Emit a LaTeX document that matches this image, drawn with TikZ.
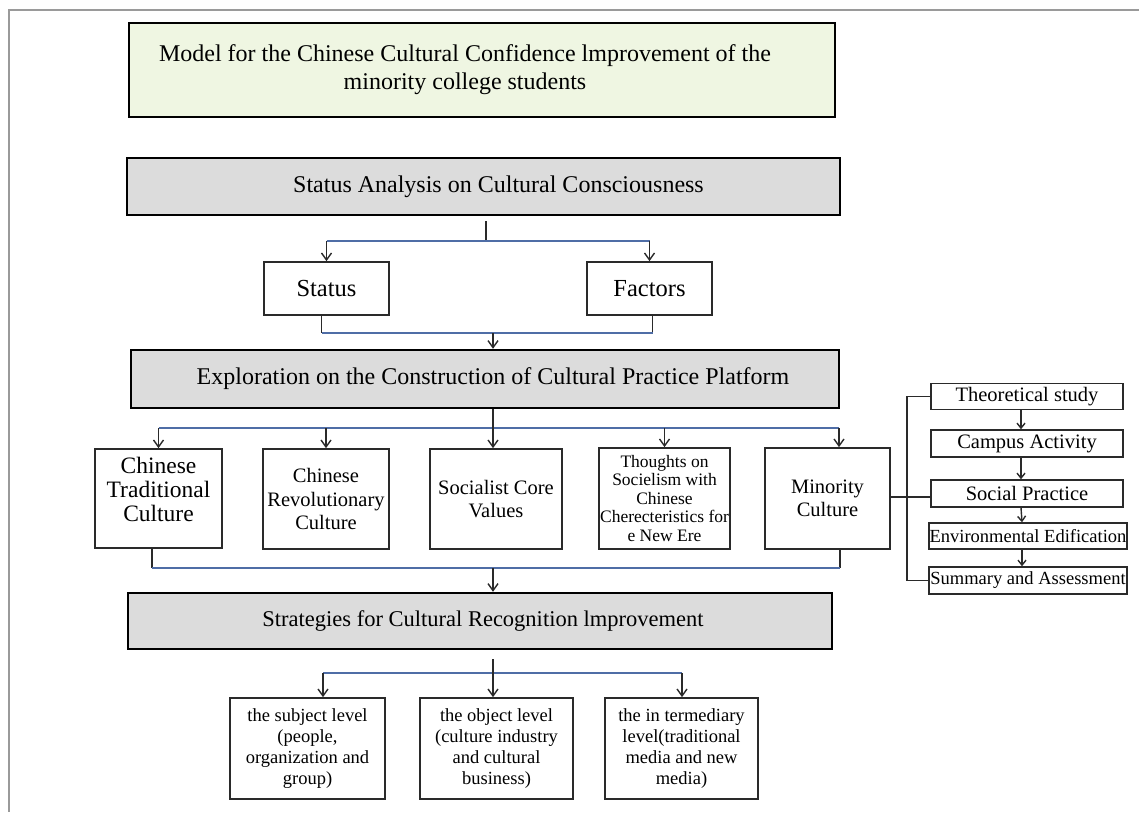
\documentclass[tikz,border=0pt]{standalone}
\usepackage{fontspec}
\setmainfont{Liberation Serif}
\usetikzlibrary{arrows.meta}

\definecolor{headgray}{HTML}{DCDCDC}
\definecolor{titlegreen}{HTML}{EFF6E2}
\definecolor{linkblue}{HTML}{4F6DA6}
\definecolor{framegray}{HTML}{9A9A9A}
\definecolor{boxline}{HTML}{2A2A2A}

\tikzset{
  headbox/.style={draw=black, line width=2.4pt, fill=headgray, inner sep=0pt, font=\fontsize{24}{28}\selectfont},
  subbox/.style={draw=boxline, line width=1.7pt, fill=white, inner sep=0pt, align=center},
  chainbox/.style={draw=boxline, line width=1.5pt, fill=white, inner sep=0pt},
  link/.style={draw=linkblue, line width=1.8pt},
  stem/.style={draw=boxline, line width=1.4pt},
  arr/.style={stem, -{Straight Barb[length=7pt,width=10pt]}},
  smallarr/.style={stem, -{Straight Barb[length=5pt,width=8pt]}}
}

\begin{document}
\begin{tikzpicture}[x=1pt, y=-1pt]
\useasboundingbox (0,0) rectangle (1139,812);
\draw[framegray, line width=2pt] (1139,10) -- (9,10) -- (9,812);

% heading boxes
\node[headbox, fill=titlegreen, minimum width=706pt, minimum height=94pt, align=center] (model) at (482,70)
  {Model for the Chinese Cultural Confidence lmprovement of the\hspace*{34pt}\\minority college students\hspace*{34pt}};
\node[headbox, minimum width=713pt, minimum height=57pt] (analysis) at (483.5,186.5) {\hspace*{30pt}Status Analysis on Cultural Consciousness};
\node[headbox, minimum width=708pt, minimum height=58pt] (explore) at (485,379) {\hspace*{16pt}Exploration on the Construction of Cultural Practice Platform};
\node[headbox, minimum width=704pt, minimum height=56pt, font=\fontsize{22.5}{26}\selectfont] (strategy) at (480,621) {\hspace*{6pt}Strategies for Cultural Recognition lmprovement};

% status and factors
\node[subbox, minimum width=125pt, minimum height=53pt, font=\fontsize{24.5}{28}\selectfont] (status) at (326.5,288.5) {Status};
\node[subbox, minimum width=125pt, minimum height=53pt, font=\fontsize{24.5}{28}\selectfont] (factors) at (649.5,288.5) {Factors};

% five cultures
\node[subbox, minimum width=127pt, minimum height=99pt, font=\fontsize{23.5}{24}\selectfont] (tradcult) at (158.5,498.5) {Chinese\\Traditional\\Culture\\[-5pt]};
\node[subbox, minimum width=126pt, minimum height=100pt, font=\fontsize{20.5}{23.5}\selectfont] (revcult) at (326,499) {Chinese\\Revolutionary\\Culture};
\node[subbox, minimum width=132pt, minimum height=100pt, font=\fontsize{20.5}{23.5}\selectfont] (corevals) at (496,499) {Socialist Core\\Values};
\node[subbox, minimum width=131pt, minimum height=101pt, font=\fontsize{17.5}{18.5}\selectfont] (thoughts) at (664.5,498.5) {Thoughts on\\Socielism with\\Chinese\\Cherecteristics for\\e New Ere};
\node[subbox, minimum width=125pt, minimum height=101pt, font=\fontsize{20.5}{23.5}\selectfont] (mincult) at (827.5,498.5) {Minority\\Culture};

% three levels
\node[subbox, minimum width=155pt, minimum height=101pt, font=\fontsize{18.5}{21}\selectfont] (subjlvl) at (307.5,748.5) {the subject level\\(people,\\organization and\\group)};
\node[subbox, minimum width=153pt, minimum height=101pt, font=\fontsize{18.5}{21}\selectfont] (objlvl) at (496.5,748.5) {the object level\\(culture industry\\and cultural\\business)};
\node[subbox, minimum width=153pt, minimum height=101pt, font=\fontsize{18.5}{21}\selectfont] (midlvl) at (681.5,748.5) {the in termediary\\level(traditional\\media and new\\media)};

% practice chain
\node[chainbox, minimum width=192pt, minimum height=26pt, font=\fontsize{20.5}{21}\selectfont] (theory) at (1027,396.5) {Theoretical study};
\node[chainbox, minimum width=192pt, minimum height=27pt, font=\fontsize{20.5}{21}\selectfont] (campus) at (1027,443.5) {Campus Activity};
\node[chainbox, minimum width=192pt, minimum height=27pt, font=\fontsize{20.5}{21}\selectfont] (social) at (1027,493.5) {Social Practice};
\node[chainbox, minimum width=198pt, minimum height=26pt, font=\fontsize{18.5}{19}\selectfont] (environ) at (1028,536) {Environmental Edification};
\node[chainbox, minimum width=198pt, minimum height=27pt, font=\fontsize{18.5}{19}\selectfont] (summary) at (1028,580.5) {Summary and Assessment};

% junctions
\coordinate (j1) at (486,241);
\coordinate (j2) at (493,333);
\coordinate (j3) at (493,428);
\coordinate (j3r) at (839,428);
\coordinate (j4l) at (152,568);
\coordinate (j4) at (493,568);
\coordinate (j4r) at (840,568);
\coordinate (j5) at (493,673);
\coordinate (j5l) at (323,673);
\coordinate (j5r) at (682,673);
\coordinate (k) at (907,497);

% analysis -> status, factors
\draw[stem] ([yshift=-5pt]analysis.south -| j1) -- (j1);
\draw[link] (status.north |- j1) -- (factors.north |- j1);
\draw[arr] (status.north |- j1) -- (status.north);
\draw[arr] (factors.north |- j1) -- (factors.north);

% status, factors -> exploration
\draw[stem] ([xshift=-5pt]status.south) -- ([xshift=-5pt]status.south |- j2);
\draw[stem] ([xshift=3pt]factors.south) -- ([xshift=3pt]factors.south |- j2);
\draw[link] ([xshift=-5pt]status.south |- j2) -- ([xshift=3pt]factors.south |- j2);
\draw[arr] (j2) -- (j2 |- explore.north);

% exploration -> cultures
\draw[link] (tradcult.north |- j3) -- (j3r);
\draw[arr] (explore.south -| j3) -- (j3 |- corevals.north);
\foreach \n in {tradcult, revcult, thoughts}
  \draw[arr] (\n.north |- j3) -- (\n.north);
\draw[arr] (j3r) -- (j3r |- mincult.north);

% cultures -> strategies
\draw[stem] (j4l |- tradcult.south) -- (j4l);
\draw[stem] (j4r |- mincult.south) -- (j4r);
\draw[link] (j4l) -- (j4r);
\draw[arr] (j4) -- (j4 |- strategy.north);

% strategies -> levels
\draw[link] (j5l) -- (j5r);
\draw[arr] ([yshift=-9pt]strategy.south -| j5) -- (j5 |- objlvl.north);
\draw[arr] (j5l) -- (j5l |- subjlvl.north);
\draw[arr] (j5r) -- (j5r |- midlvl.north);

% minority culture -> practice chain
\draw[stem] (mincult.east |- k) -- (social.west |- k);
\draw[stem] (theory.west) -- (theory.west -| k) -- (summary.west -| k) -- (summary.west);
\foreach \a/\b in {theory/campus, campus/social, social/environ, environ/summary}
  \draw[smallarr] ([xshift=-6pt]\a.south) -- ([xshift=-6pt]\b.north);
\end{tikzpicture}
\end{document}
